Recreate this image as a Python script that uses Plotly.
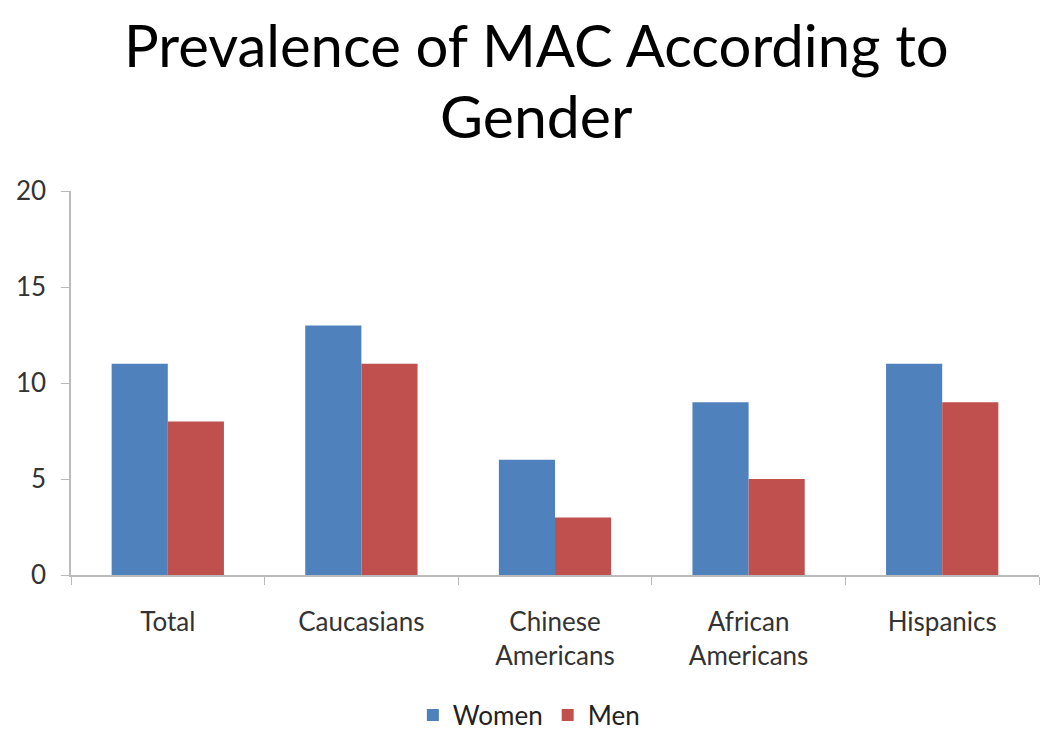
import plotly.graph_objects as go

categories = ["Total", "Caucasians", "Chinese<br>Americans", "African<br>Americans", "Hispanics"]
women = [11, 13, 6, 9, 11]
men = [8, 11, 3, 5, 9]
y_ticks = [0, 5, 10, 15, 20]
title_lines = ["Prevalence of MAC According to", "Gender"]

FONT = "Lato, Open Sans, sans-serif"

fig = go.Figure()
fig.add_trace(go.Bar(name="Women", x=categories, y=women, marker=dict(color="#4F81BD", line=dict(width=0))))
fig.add_trace(go.Bar(name="Men", x=categories, y=men, marker=dict(color="#C0504D", line=dict(width=0))))

fig.update_layout(
    width=1050, height=740,
    paper_bgcolor="white", plot_bgcolor="white",
    margin=dict(l=63, r=19, t=183, b=173, autoexpand=False),
    barmode="group", bargap=0.42, bargroupgap=0,
    font=dict(family=FONT, color="#333333"),
    showlegend=True,
    legend=dict(orientation="h", x=0.473, xanchor="center", y=-0.365, yanchor="middle",
                font=dict(size=26, color="#222222"), traceorder="normal"),
    xaxis=dict(showgrid=False, showline=True, linecolor="#BBBBBB", linewidth=1.5,
               ticks="outside", tickson="boundaries", ticklen=8, tickcolor="#BBBBBB",
               ticklabelstandoff=23,
               tickfont=dict(size=26, color="#333333")),
    yaxis=dict(range=[0, 20], tickvals=y_ticks, showgrid=False, showline=True, linecolor="#BBBBBB",
               linewidth=1.5, ticks="outside", ticklen=8, tickcolor="#BBBBBB", zeroline=False,
               ticklabelstandoff=10,
               tickfont=dict(size=26, color="#333333")),
)

fig.add_annotation(text=title_lines[0], xref="paper", yref="paper", x=0.4814, y=1.381,
                   xanchor="center", yanchor="middle", showarrow=False,
                   font=dict(family=FONT, size=58, color="#000000"))
fig.add_annotation(text=title_lines[1], xref="paper", yref="paper", x=0.4814, y=1.196,
                   xanchor="center", yanchor="middle", showarrow=False,
                   font=dict(family=FONT, size=59, color="#000000"))

fig.write_html("out.html")
